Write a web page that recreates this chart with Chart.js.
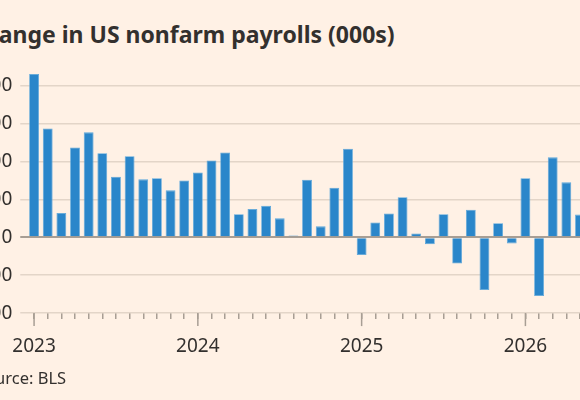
<!DOCTYPE html>
<html><head><meta charset="utf-8">
<script src="https://cdn.jsdelivr.net/npm/chart.js@4"></script>
<style>
html,body{margin:0;padding:0;background:#fff1e5;overflow:hidden;width:580px;height:400px;position:relative;font-family:"Noto Sans",sans-serif;color:#33302e}
#c{position:absolute;left:-60px;top:0}
#title{position:absolute;left:-31px;top:18px;font-size:23px;font-weight:bold;white-space:nowrap}
#src{position:absolute;left:-24px;top:366px;font-size:16.5px;white-space:nowrap}
</style></head><body>
<div id="title">Change in US nonfarm payrolls (000s)</div>
<canvas id="c" width="656" height="400"></canvas>
<div id="src">Source: BLS</div>
<script>
const months = [];
for (let y = 2023; y <= 2026; y++) for (let m = 1; m <= 12; m++) months.push(y + '-' + String(m).padStart(2,'0'));
const categories = months.slice(0, 41);
const payrolls = [431,287,64,237,277,222,160,214,153,156,124,150,171,203,224,61,75,83,50,5,152,29,131,234,-47,39,63,106,10,-18,61,-69,73,-139,37,-16,156,-155,211,145,60];
const yTicks = [-200,-100,0,100,200,300,400];

const yearTicks = {
  id:'yearTicks',
  afterDraw(chart){
    const x = chart.scales.x, ctx = chart.ctx, b = chart.chartArea.bottom;
    ctx.save(); ctx.strokeStyle='#a89e94'; ctx.lineWidth=1.5;
    categories.forEach((c,i)=>{ if(c.endsWith('-01')){ const px=x.getPixelForTick(i); ctx.beginPath(); ctx.moveTo(px,b); ctx.lineTo(px,b+13); ctx.stroke(); }});
    ctx.restore();
  }
};

new Chart(document.getElementById('c'), {
  type:'bar',
  data:{labels:categories, datasets:[{data:payrolls, backgroundColor:'#2a86ca', borderColor:'#5aa6dc', borderWidth:0.8, barPercentage:0.72, categoryPercentage:1}]},
  options:{
    responsive:false, animation:false,
    layout:{padding:{top:66.8,bottom:0,left:0,right:0}},
    plugins:{legend:{display:false},tooltip:{enabled:false}},
    scales:{
      x:{
        border:{display:false},
        grid:{drawOnChartArea:false, offset:false, tickLength:6, color:'#a89e94', lineWidth:1.5},
        ticks:{autoSkip:false, maxRotation:0, padding:16, color:'#33302e', font:{size:19, family:'Noto Sans'},
          callback:(v,i)=>categories[i].endsWith('-01')?categories[i].slice(0,4):''},
        afterFit:s=>{s.height=86.9;}
      },
      y:{
        min:-200, max:450,
        border:{display:false},
        afterBuildTicks:s=>{s.ticks = yTicks.map(v=>({value:v}));},
        afterFit:s=>{s.width=87.25;},
        grid:{tickLength:7, drawTicks:true,
          color:c=>c.tick && c.tick.value===0 ? '#a89e94' : '#e3d5c8',
          lineWidth:c=>c.tick && c.tick.value===0 ? 2 : 1.5},
        ticks:{padding:8, color:'#33302e', font:{size:19, family:'Noto Sans'}}
      }
    }
  },
  plugins:[yearTicks]
});
</script></body></html>
